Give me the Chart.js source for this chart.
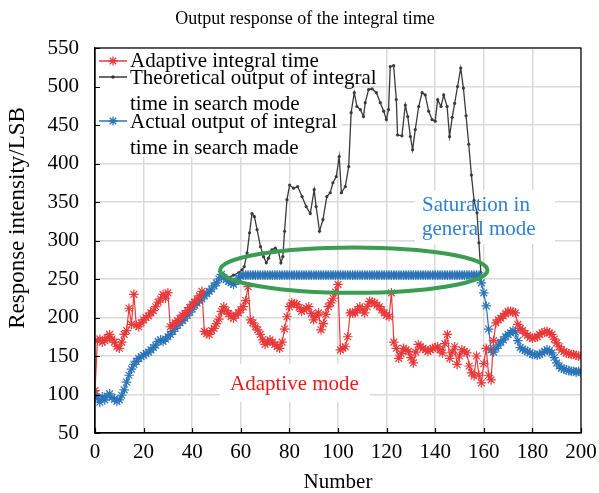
<!DOCTYPE html>
<html>
<head>
<meta charset="utf-8">
<script src="https://cdn.jsdelivr.net/npm/chart.js@4.4.1/dist/chart.umd.min.js"></script>
<style>
  html, body { margin: 0; padding: 0; background: #fff; }
  #wrap { width: 599px; height: 493px; }
</style>
</head>
<body>
<div id="wrap"><canvas id="responseChart" width="599" height="493"></canvas></div>
<script>
// Output response of the integral time
const SERIF = "'Liberation Serif', 'Times New Roman', serif";

const xTicks = [0, 20, 40, 60, 80, 100, 120, 140, 160, 180, 200];
const yTicks = [50, 100, 150, 200, 250, 300, 350, 400, 450, 500, 550];

// Adaptive integral time (one value per Number 0..200)
const adaptiveValues = [
  105, 170, 172, 168, 170, 174, 178, 172, 168, 162,
  160, 168, 178, 183, 212, 191, 230, 190, 188, 193,
  197, 200, 202, 206, 209, 214, 220, 224, 230, 225,
  232, 188, 190, 193, 196, 199, 203, 205, 209, 213,
  217, 220, 224, 228, 234, 182, 179, 178, 183, 186,
  192, 198, 208, 214, 209, 205, 201, 199, 203, 206,
  210, 214, 222, 240, 197, 193, 188, 184, 178, 171,
  165, 168, 171, 168, 165, 162, 160, 168, 185, 201,
  214, 219, 218, 217, 213, 208, 210, 212, 214, 205,
  197, 202, 206, 184, 192, 204, 214, 219, 225, 233,
  243, 158, 160, 162, 175, 206, 206, 206, 210, 214,
  210, 206, 214, 221, 220, 219, 216, 214, 210, 206,
  203, 201, 232, 168, 160, 147, 153, 160, 158, 156,
  148, 141, 155, 165, 162, 160, 158, 156, 158, 160,
  161, 162, 158, 154, 166, 178, 147, 155, 162, 139,
  150, 158, 156, 154, 137, 128, 124, 150, 125, 115,
  140, 160, 125, 119, 170, 193, 197, 199, 202, 205,
  208, 208, 207, 206, 191, 186, 183, 179, 177, 174,
  173, 174, 175, 178, 180, 181, 182, 180, 178, 172,
  167, 162, 158, 156, 154, 153, 152, 152, 151, 150,
  149
];

// Actual output of integral time in search mode (Number 0..200)
const actualValues = [
  100, 95, 90, 97, 93, 98, 101, 96, 94, 91,
  93, 99, 106, 116, 125, 133, 139, 143, 147, 149,
  151, 153, 155, 158, 161, 164, 169, 171, 169, 172,
  175, 178, 182, 186, 190, 193, 196, 199, 203, 207,
  211, 216, 219, 222, 224, 228, 231, 234, 237, 241,
  245, 250, 256, 252, 249, 247, 245, 243, 247, 251,
  254, 255, 255, 255, 255, 255, 255, 255, 255, 255,
  255, 255, 255, 255, 255, 255, 255, 255, 255, 255,
  255, 255, 255, 255, 255, 255, 255, 255, 255, 255,
  255, 255, 255, 255, 255, 255, 255, 255, 255, 255,
  255, 255, 255, 255, 255, 255, 255, 255, 255, 255,
  255, 255, 255, 255, 255, 255, 255, 255, 255, 255,
  255, 255, 255, 255, 255, 255, 255, 255, 255, 255,
  255, 255, 255, 255, 255, 255, 255, 255, 255, 255,
  255, 255, 255, 255, 255, 255, 255, 255, 255, 255,
  255, 255, 255, 255, 255, 255, 255, 255, 255, 245,
  232, 215, 185, 158, 155, 160, 164, 168, 171, 175,
  178, 180, 183, 181, 170, 161, 159, 157, 156, 154,
  152, 152, 151, 152, 154, 156, 158, 157, 154, 148,
  141, 137, 134, 133, 132, 131, 130, 130, 129, 130,
  129
];

// Theoretical output of integral time in search mode
const theoryX = [
  53, 55, 57, 59, 60.5, 61.4, 62.6, 63.6, 64.6, 65.6,
  66.7, 68.1, 69.4, 70.5, 71.4, 72.8, 74.2, 75.5, 76.5, 77.3,
  78.0, 79.0, 80.1, 81.7, 83.4, 85.2, 86.9, 88.6, 90.2, 91.0,
  92.4, 93.8, 95.4, 96.8, 97.9, 99.3, 100.5, 101.4, 103.0, 104.4,
  105.4, 106.7, 107.8, 109.2, 110.5, 111.2, 112.6, 114.0, 115.8, 117.4,
  118.8, 119.9, 120.8, 121.5, 122.9, 124.0, 124.5, 126.3, 127.7, 128.7,
  129.8, 130.7, 131.8, 133.2, 134.6, 135.9, 137.3, 138.7, 140.0, 141.0,
  142.4, 143.5, 144.9, 145.9, 147.0, 148.0, 149.2, 150.5, 151.6, 152.7,
  153.8, 154.9, 156.0, 157.2, 158.0, 158.8
];
const theoryValues = [
  256, 252, 255, 258, 262, 266, 284, 310, 335, 331,
  314, 292, 279, 271, 277, 288, 290, 286, 271, 279,
  312, 353, 372, 368, 370, 357, 344, 335, 366, 344,
  312, 327, 357, 362, 375, 383, 409, 362, 370, 396,
  466, 492, 474, 470, 461, 479, 496, 497, 492, 479,
  468, 457, 470, 526, 527, 483, 437, 436, 476, 461,
  435, 418, 444, 474, 492, 489, 468, 457, 455, 483,
  474, 489, 474, 435, 460, 478, 500, 524, 498, 462,
  425, 385, 352, 336, 297, 258
];

// saturation ellipse in data units: centre Number, centre value, half widths
const ellipseCenter = [106.5, 261.5];
const ellipseRadius = [55, 29.5];

const RED = '#e8393b';
const BLUE = '#2b74b8';
const BLACK = '#3a3a3a';

function drawStar(ctx, x, y, r, color) {
    ctx.strokeStyle = color;
    ctx.lineWidth = 1.3;
    ctx.beginPath();
    for (let k = 0; k < 4; k++) {
        const a = k * Math.PI / 4;
        ctx.moveTo(x - r * Math.cos(a), y - r * Math.sin(a));
        ctx.lineTo(x + r * Math.cos(a), y + r * Math.sin(a));
    }
    ctx.stroke();
}

const decorations = {
    id: 'decorations',
    beforeDatasetsDraw(chart) {
        const ctx = chart.ctx;
        ctx.save();
        ctx.fillStyle = '#fff';
        ctx.fillRect(96, 49, 246, 108);   // legend box
        ctx.fillRect(415, 190, 140, 54);  // saturation label
        ctx.fillRect(220, 364, 150, 38);  // adaptive label
        ctx.restore();
    },
    afterDatasetsDraw(chart) {
        const {ctx, scales: {x, y}} = chart;
        const cx = x.getPixelForValue(ellipseCenter[0]);
        const cy = y.getPixelForValue(ellipseCenter[1]);
        const rx = Math.abs(x.getPixelForValue(ellipseCenter[0] + ellipseRadius[0]) - cx);
        const ry = Math.abs(y.getPixelForValue(ellipseCenter[1] + ellipseRadius[1]) - cy);
        ctx.save();
        ctx.strokeStyle = '#3b9c52';
        ctx.lineWidth = 4;
        ctx.beginPath();
        ctx.ellipse(cx, cy, rx, ry, 0, 0, Math.PI * 2);
        ctx.stroke();
        ctx.restore();
    },
    afterDraw(chart) {
        const {ctx, chartArea: a, scales: {x, y}} = chart;
        ctx.save();
        // frame + inward ticks
        ctx.strokeStyle = '#000';
        ctx.lineWidth = 1.2;
        ctx.strokeRect(a.left, a.top, a.right - a.left, a.bottom - a.top);
        ctx.beginPath();
        yTicks.forEach(v => {
            const py = Math.round(y.getPixelForValue(v)) + 0.5;
            ctx.moveTo(a.left, py);
            ctx.lineTo(a.left + 5, py);
        });
        xTicks.forEach(v => {
            const px = Math.round(x.getPixelForValue(v)) + 0.5;
            ctx.moveTo(px, a.bottom);
            ctx.lineTo(px, a.bottom - 5);
        });
        ctx.stroke();

        ctx.fillStyle = '#000';
        ctx.textAlign = 'center';
        ctx.textBaseline = 'middle';
        // title
        ctx.font = `18px ${SERIF}`;
        ctx.fillText('Output response of the integral time', 305, 19);
        // y axis title
        ctx.font = `23px ${SERIF}`;
        ctx.save();
        ctx.translate(18, 218);
        ctx.rotate(-Math.PI / 2);
        ctx.fillText('Response intensity/LSB', 0, 0);
        ctx.restore();

        // legend
        ctx.font = `21px ${SERIF}`;
        ctx.textAlign = 'left';
        ctx.textBaseline = 'alphabetic';
        const entries = [
            {color: RED, y: 61, star: true, lines: ['Adaptive integral time'], base: 67},
            {color: BLACK, y: 77, star: false, lines: ['Theoretical output of integral', 'time in search mode'], base: 84},
            {color: BLUE, y: 121, star: true, lines: ['Actual output of integral', 'time in search made'], base: 128}
        ];
        entries.forEach(e => {
            ctx.strokeStyle = e.color;
            ctx.lineWidth = 1.5;
            ctx.beginPath();
            ctx.moveTo(99, e.y);
            ctx.lineTo(127, e.y);
            ctx.stroke();
            if (e.star) {
                drawStar(ctx, 113, e.y, 4.5, e.color);
            } else {
                ctx.fillStyle = e.color;
                ctx.beginPath();
                ctx.arc(113, e.y, 1.8, 0, Math.PI * 2);
                ctx.fill();
            }
            ctx.fillStyle = '#000';
            e.lines.forEach((t, i) => ctx.fillText(t, 130, e.base + i * 26));
        });

        // annotations
        ctx.fillStyle = '#2f80d4';
        ctx.fillText('Saturation in', 422, 211);
        ctx.fillText('general mode', 422, 235);
        ctx.fillStyle = '#e81c1c';
        ctx.fillText('Adaptive mode', 230, 390);
        ctx.restore();
    }
};

const ctx = document.getElementById('responseChart').getContext('2d');
new Chart(ctx, {
    type: 'line',
    data: {
        datasets: [
            {
                label: 'Adaptive integral time',
                data: adaptiveValues.map((v, i) => ({x: i, y: v})),
                borderColor: RED,
                backgroundColor: RED,
                borderWidth: 1.2,
                pointStyle: 'star',
                pointRadius: 4.8,
                pointBorderWidth: 1.2,
                pointBorderColor: RED,
                order: 0
            },
            {
                label: 'Actual output of integral time in search made',
                data: actualValues.map((v, i) => ({x: i, y: v})),
                borderColor: BLUE,
                backgroundColor: BLUE,
                borderWidth: 1.2,
                pointStyle: 'star',
                pointRadius: 4.8,
                pointBorderWidth: 1.2,
                pointBorderColor: BLUE,
                order: 1
            },
            {
                label: 'Theoretical output of integral time in search mode',
                data: theoryX.map((n, i) => ({x: n, y: theoryValues[i]})),
                borderColor: BLACK,
                backgroundColor: BLACK,
                borderWidth: 1.3,
                pointStyle: 'circle',
                pointRadius: 1.6,
                pointBorderWidth: 0,
                order: 2
            }
        ]
    },
    options: {
        responsive: false,
        animation: false,
        devicePixelRatio: 1,
        layout: { padding: { top: 48, right: 18, bottom: 0, left: 0 } },
        elements: { line: { tension: 0 } },
        plugins: {
            legend: { display: false },
            tooltip: { enabled: false },
            title: { display: false }
        },
        scales: {
            x: {
                type: 'linear',
                min: 0,
                max: 200,
                afterBuildTicks: s => { s.ticks = xTicks.map(v => ({value: v})); },
                ticks: { color: '#000', padding: 7, font: { family: SERIF, size: 21 } },
                grid: { color: '#dadada', lineWidth: 1.5, drawTicks: false },
                border: { color: '#000', width: 1.2 },
                title: {
                    display: true,
                    text: 'Number',
                    color: '#000',
                    font: { family: SERIF, size: 21, lineHeight: 1 },
                    padding: { top: 0, bottom: 0 }
                },
                afterFit: s => { s.height = 60; s.paddingLeft = 0; s.paddingRight = 0; }
            },
            y: {
                min: 50,
                max: 550,
                afterBuildTicks: s => { s.ticks = yTicks.map(v => ({value: v})); },
                ticks: { color: '#000', padding: 16, font: { family: SERIF, size: 21 } },
                grid: { color: '#dadada', lineWidth: 1.5, drawTicks: false },
                border: { color: '#000', width: 1.2 },
                afterFit: s => { s.width = 95; s.paddingTop = 0; s.paddingBottom = 0; }
            }
        }
    },
    plugins: [decorations]
});
</script>
</body>
</html>
